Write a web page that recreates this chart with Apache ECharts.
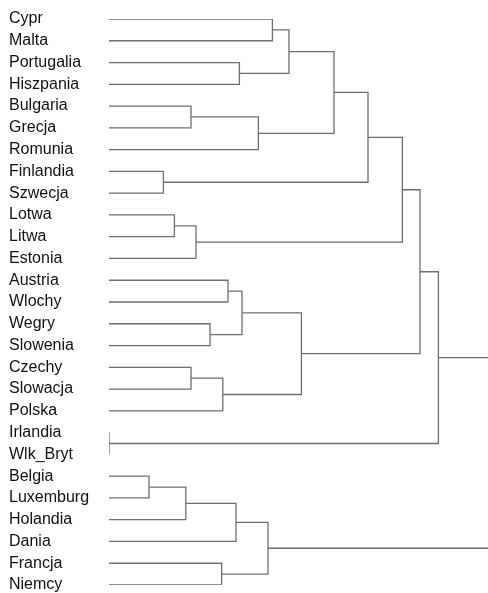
<!DOCTYPE html>
<html>
<head>
<meta charset="utf-8">
<script src="https://cdn.jsdelivr.net/npm/echarts@6/dist/echarts.min.js"></script>
<style>
  html, body { margin: 0; padding: 0; background: #fff; }
  #chart { width: 488px; height: 593px; }
</style>
</head>
<body>
<div id="chart"></div>
<script>
// Leaf order from top to bottom
const leaves = ['Cypr', 'Malta', 'Portugalia', 'Hiszpania', 'Bulgaria', 'Grecja', 'Romunia',
  'Finlandia', 'Szwecja', 'Lotwa', 'Litwa', 'Estonia', 'Austria', 'Wlochy', 'Wegry',
  'Slowenia', 'Czechy', 'Slowacja', 'Polska', 'Irlandia', 'Wlk_Bryt', 'Belgia',
  'Luxemburg', 'Holandia', 'Dania', 'Francja', 'Niemcy'];

// Agglomeration steps: a string is a leaf, a number refers to an earlier step (1-based)
const mergeA = ['Irlandia', 'Belgia', 'Finlandia', 'Lotwa', 2, 'Bulgaria', 'Czechy', 4,
  'Wegry', 'Francja', 7, 'Austria', 5, 'Portugalia', 12, 6, 13, 'Cypr', 18, 15, 19, 21, 22,
  23, 24, 25];
const mergeB = ['Wlk_Bryt', 'Luxemburg', 'Szwecja', 'Litwa', 'Holandia', 'Grecja', 'Slowacja',
  'Estonia', 'Slowenia', 'Niemcy', 'Polska', 'Wlochy', 'Dania', 'Hiszpania', 9, 'Romunia', 10,
  'Malta', 14, 11, 16, 3, 8, 20, 1, 17];
const mergeHeight = [0, 2.0, 2.72, 3.27, 3.84, 4.1, 4.1, 4.35, 5.05, 5.63, 5.69, 5.95, 6.35,
  6.52, 6.65, 7.47, 7.95, 8.17, 9.0, 9.62, 11.25, 12.95, 14.67, 15.55, 16.47, 20.0];

// Visible height range
const heightMax = 18.95;

// Row position and height of each node (a merged node sits midway between its children)
const nodeInfo = (ref, pos) => {
  if (typeof ref === 'string') return { y: leaves.indexOf(ref), h: 0 };
  return pos[ref - 1];
};
const pos = [];
const segments = [];
for (let i = 0; i < mergeHeight.length; i++) {
  const a = nodeInfo(mergeA[i], pos);
  const b = nodeInfo(mergeB[i], pos);
  const h = mergeHeight[i];
  pos.push({ y: (a.y + b.y) / 2, h: h });
  segments.push([a.h, a.y, b.h, b.y, h]);
}

const chart = echarts.init(document.getElementById('chart'), null, { renderer: 'canvas' });
chart.setOption({
  animation: false,
  backgroundColor: '#ffffff',
  grid: { left: 109, right: 0, top: 19, bottom: 7, containLabel: false },
  xAxis: {
    type: 'value', min: 0, max: heightMax,
    show: false
  },
  yAxis: {
    type: 'value', inverse: true, min: 0, max: leaves.length - 1, interval: 1,
    axisLine: { show: false }, axisTick: { show: false }, splitLine: { show: false },
    axisLabel: {
      align: 'left', margin: 100,
      formatter: (v) => leaves[v] || '',
      color: '#111', fontSize: 16, fontFamily: 'Liberation Sans, Arial, sans-serif'
    }
  },
  series: [{
    type: 'custom',
    clip: true,
    data: segments,
    encode: { x: [0, 2, 4], y: [1, 3] },
    renderItem: (params, api) => {
      const hA = api.value(0), yA = api.value(1), hB = api.value(2), yB = api.value(3), h = api.value(4);
      const p1 = api.coord([hA, yA]);
      const p2 = api.coord([h, yA]);
      const p3 = api.coord([h, yB]);
      const p4 = api.coord([hB, yB]);
      return {
        type: 'polyline',
        shape: { points: [p1, p2, p3, p4] },
        style: { stroke: '#6e6e6e', lineWidth: 1.3, fill: null }
      };
    }
  }]
});
</script>
</body>
</html>
